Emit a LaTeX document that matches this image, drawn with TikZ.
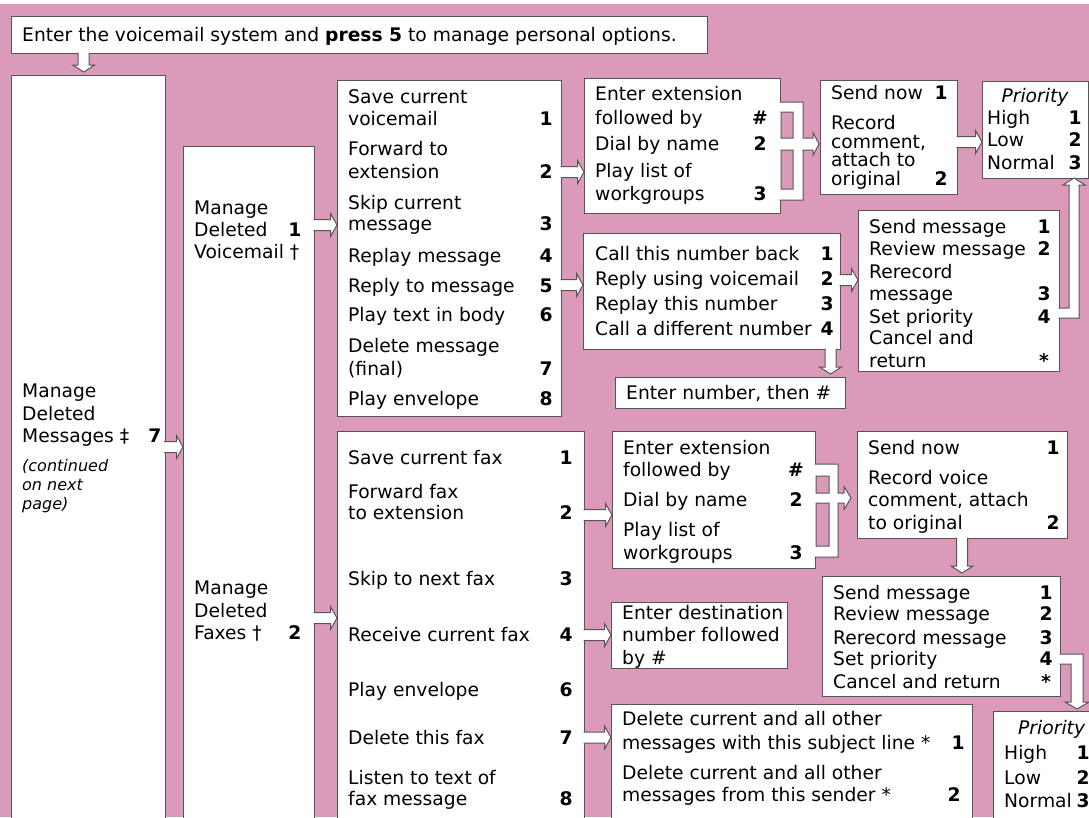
\documentclass[tikz,border=0pt]{standalone}
\usepackage{fontspec}
\setmainfont{DejaVu Sans}
\usepackage{tikz}
\usetikzlibrary{calc}
\definecolor{bgpink}{RGB}{220,154,187}
\definecolor{edge}{RGB}{85,85,85}

% block arrow pointing right, from a point on one box to the west side of another
\newcommand\fatright[2]{%
  \draw[fat] let \p1=(#1), \p2=(#2) in
    (\x1-1.5pt,\y1+5.5pt) -- (\x2-6.5pt,\y1+5.5pt) -- (\x2-6.5pt,\y1+11.5pt)
    -- (\x2,\y1) -- (\x2-6.5pt,\y1-11.5pt) -- (\x2-6.5pt,\y1-5.5pt)
    -- (\x1-1.5pt,\y1-5.5pt);}
% block arrow pointing down
\newcommand\fatdown[2]{%
  \draw[fat] let \p1=(#1), \p2=(#2) in
    (\x1-5.5pt,\y1+1.5pt) -- (\x1-5.5pt,\y2+10pt) -- (\x1-11pt,\y2+10pt)
    -- (\x1,\y2+3pt) -- (\x1+11pt,\y2+10pt) -- (\x1+5.5pt,\y2+10pt)
    -- (\x1+5.5pt,\y1+1.5pt);}

\begin{document}
\begin{tikzpicture}[x=1pt,y=-1pt,
  box/.style={draw=edge,fill=white,line width=1pt,inner sep=0pt,anchor=north west},
  item/.style={anchor=mid west,inner sep=0pt,yshift=-5pt,font=\fontsize{18.7}{22}\selectfont},
  key/.style={anchor=mid,inner sep=0pt,yshift=-5pt,font=\fontsize{18.7}{22}\selectfont\bfseries},
  note/.style={anchor=mid west,inner sep=0pt,yshift=-4.5pt,font=\fontsize{16}{19}\selectfont\itshape},
  fat/.style={draw=edge,fill=white,line width=1pt,line join=miter}]
\useasboundingbox (0,0) rectangle (1089,817);
\clip (0,0) rectangle (1089,817);
\fill[white] (0,0) rectangle (1089,4);
\fill[bgpink] (0,4) rectangle (1089,817);

% boxes
\node[box,minimum width=696pt,minimum height=37pt] (start) at (10.7,16) {};
\node[box,minimum width=154pt,minimum height=760pt] (msgs) at (10.7,75) {};
\node[box,minimum width=131pt,minimum height=700pt] (kinds) at (183,146) {};
\node[box,minimum width=224pt,minimum height=336pt] (vmenu) at (337,80) {};
\node[box,minimum width=247pt,minimum height=400pt] (fmenu) at (337,431) {};
\node[box,minimum width=196pt,minimum height=135pt] (vext) at (584,78) {};
\node[box,minimum width=137pt,minimum height=114pt] (vsend) at (820,80) {};
\node[box,minimum width=106pt,minimum height=97pt] (vprio) at (982,81) {};
\node[box,minimum width=257pt,minimum height=116pt] (vcall) at (583,233) {};
\node[box,minimum width=201pt,minimum height=161pt] (vreply) at (858,210) {};
\node[box,minimum width=230pt,minimum height=31pt] (vnum) at (615,377) {};
\node[box,minimum width=203pt,minimum height=137pt] (fext) at (612,431) {};
\node[box,minimum width=210pt,minimum height=107pt] (fsend) at (857,431) {};
\node[box,minimum width=238pt,minimum height=120pt] (freply) at (822,576) {};
\node[box,minimum width=176pt,minimum height=66pt] (fdest) at (611,602) {};
\node[box,minimum width=361pt,minimum height=130pt] (fdel) at (611,704) {};
\node[box,minimum width=110pt,minimum height=120pt] (fprio) at (993,711) {};

% texts
\node[item] (intro) at (22,34) {Enter the voicemail system and \textbf{press 5} to manage personal options.};

\node[item] (msgs1) at (22,390) {Manage};
\node[item] (msgs2) at (22,413) {Deleted};
\node[item] (msgs3) at (22,435) {Messages ‡};
\node[key] (msgsk) at (155,435) {7};
\foreach \yy/\lbl in {464/{(continued},483/on next,502/{page)}}
  \node[note] (cont\yy) at (22,\yy) {\lbl};

\foreach \yy/\lbl/\kk in {207/Manage/{},229/Deleted/1,251/Voicemail †/{},
    587/Manage/{},610/Deleted/{},632/Faxes †/2}
  {\node[item] (kinds\yy) at (194,\yy) {\lbl}; \node[key] (kindsk\yy) at (295,\yy) {\kk};}

\foreach \yy/\lbl/\kk in {96/Save current/{},118/voicemail/1,148/Forward to/{},171/extension/2,
    202/Skip current/{},223/message/3,255/Replay message/4,285/Reply to message/5,
    314/Play text in body/6,345/Delete message/{},368/(final)/7,398/Play envelope/8}
  {\node[item] (vm\yy) at (348,\yy) {\lbl}; \node[key] (vmk\yy) at (546,\yy) {\kk};}

\foreach \yy/\lbl/\kk in {93/Enter extension/{},117/followed by/\#,143/Dial by name/2,
    170/Play list of/{},193/workgroups/3}
  {\node[item] (ve\yy) at (595,\yy) {\lbl}; \node[key] (vek\yy) at (760,\yy) {\kk};}

\foreach \yy/\lbl/\kk in {92/Send now/1,122/Record/{},141/{comment,}/{},159/attach to/{},178/original/2}
  {\node[item] (vs\yy) at (831,\yy) {\lbl}; \node[key] (vsk\yy) at (941,\yy) {\kk};}

\node[item,anchor=mid,font=\fontsize{18.7}{22}\selectfont\itshape] (vp) at (1035,95) {Priority};
\foreach \yy/\lbl/\kk in {117/High/1,139/Low/2,162/Normal/3}
  {\node[item] (vp\yy) at (987,\yy) {\lbl}; \node[key] (vpk\yy) at (1075,\yy) {\kk};}

\foreach \yy/\lbl/\kk in {253/Call this number back/1,278/Reply using voicemail/2,
    303/Replay this number/3,328/Call a different number/4}
  {\node[item] (vc\yy) at (595,\yy) {\lbl}; \node[key] (vck\yy) at (827,\yy) {\kk};}

\foreach \yy/\lbl/\kk in {226/Send message/1,248/Review message/2,271/Rerecord/{},293/message/3,
    316/Set priority/4,337/Cancel and/{},360/return/*}
  {\node[item] (vr\yy) at (869,\yy) {\lbl}; \node[key] (vrk\yy) at (1044,\yy) {\kk};}

\node[item] (vn) at (626,392) {Enter number, then \#};

\foreach \yy/\lbl/\kk in {457/Save current fax/1,491/Forward fax/{},512/to extension/2,
    578/Skip to next fax/3,634/Receive current fax/4,689/Play envelope/6,
    737/Delete this fax/7,777/Listen to text of/{},798/fax message/8}
  {\node[item] (fm\yy) at (348,\yy) {\lbl}; \node[key] (fmk\yy) at (566,\yy) {\kk};}

\foreach \yy/\lbl/\kk in {447/Enter extension/{},469/followed by/\#,499/Dial by name/2,
    529/Play list of/{},552/workgroups/3}
  {\node[item] (fe\yy) at (623,\yy) {\lbl}; \node[key] (fek\yy) at (796,\yy) {\kk};}

\foreach \yy/\lbl/\kk in {447/Send now/1,477/Record voice/{},499/{comment, attach}/{},522/to original/2}
  {\node[item] (fs\yy) at (868,\yy) {\lbl}; \node[key] (fsk\yy) at (1053,\yy) {\kk};}

\foreach \yy/\lbl/\kk in {592/Send message/1,613/Review message/2,637/Rerecord message/3,
    658/Set priority/4,681/Cancel and return/*}
  {\node[item] (fr\yy) at (833,\yy) {\lbl}; \node[key] (frk\yy) at (1046,\yy) {\kk};}

\foreach \yy/\lbl in {612/Enter destination,634/number followed,657/by \#}
  \node[item] (fd\yy) at (622,\yy) {\lbl};

\foreach \yy/\lbl in {718/Delete current and all other,742/messages with this subject line *,
    772/Delete current and all other,794/messages from this sender *}
  \node[item] (fx\yy) at (622,\yy) {\lbl};
\node[key] (fxk1) at (958,742) {1};
\node[key] (fxk2) at (954,794) {2};

\node[item,font=\fontsize{18.7}{22}\selectfont\itshape] (fp) at (1018,727) {Priority};
\foreach \yy/\lbl/\kk in {752/High/1,777/Low/2,800/Normal/3}
  {\node[item] (fp\yy) at (1004,\yy) {\lbl}; \node[key] (fpk\yy) at (1083,\yy) {\kk};}

% connectors
\fatdown{$(start.south west)+(73,0)$}{msgs.north}
\fatright{$(msgs.north east)+(0,372)$}{kinds.west}
\fatright{$(kinds.north east)+(0,79)$}{vmenu.west}
\fatright{$(kinds.north east)+(0,472)$}{fmenu.west}
\fatright{$(vmenu.north east)+(0,92)$}{vext.west}
\fatright{$(vmenu.north east)+(0,205)$}{vcall.west}
\fatright{$(vcall.north east)+(0,47)$}{vreply.west}
\fatright{$(vsend.north east)+(0,62)$}{vprio.west}
\fatdown{$(vcall.south west)+(247.5,0)$}{vnum.north}
\fatright{$(fmenu.north east)+(0,84)$}{fext.west}
\fatright{$(fmenu.north east)+(0,204)$}{fdest.west}
\fatright{$(fmenu.north east)+(0,306.5)$}{fdel.west}
\fatdown{$(fsend.south west)+(105,0)$}{freply.north}

\begin{scope}[shift={(vext.north east)}]
\draw[fat,even odd rule] (-1.5,24) -- (22,24) -- (22,60) -- (32,60) -- (32,54.5) -- (38,66)
  -- (32,77.5) -- (32,72) -- (22,72) -- (22,122) -- (-1.5,122)
  (0,34) -- (12,34) -- (12,60) -- (0,60) -- cycle
  (0,72) -- (12,72) -- (12,111) -- (0,111) -- cycle;
\end{scope}
\begin{scope}[shift={(fext.north east)}]
\draw[fat,even odd rule] (-1.5,33) -- (22,33) -- (22,62) -- (28,62) -- (28,55.5) -- (35,67)
  -- (28,78.5) -- (28,72) -- (22,72) -- (22,126) -- (-1.5,126)
  (0,45) -- (13,45) -- (13,62) -- (0,62) -- cycle
  (0,72) -- (13,72) -- (13,115) -- (0,115) -- cycle;
\end{scope}
\begin{scope}[shift={(vreply.north east)}]
\draw[fat] (-1.5,98) -- (9,98) -- (9,-25) -- (3,-25) -- (14,-32) -- (25,-25) -- (19,-25)
  -- (19,108) -- (-1.5,108);
\end{scope}
\begin{scope}[shift={(freply.north east)}]
\draw[fat] (-1.5,78) -- (22,78) -- (22,126) -- (28,126) -- (16,133) -- (4,126) -- (10,126)
  -- (10,88) -- (-1.5,88);
\end{scope}
\end{tikzpicture}
\end{document}
